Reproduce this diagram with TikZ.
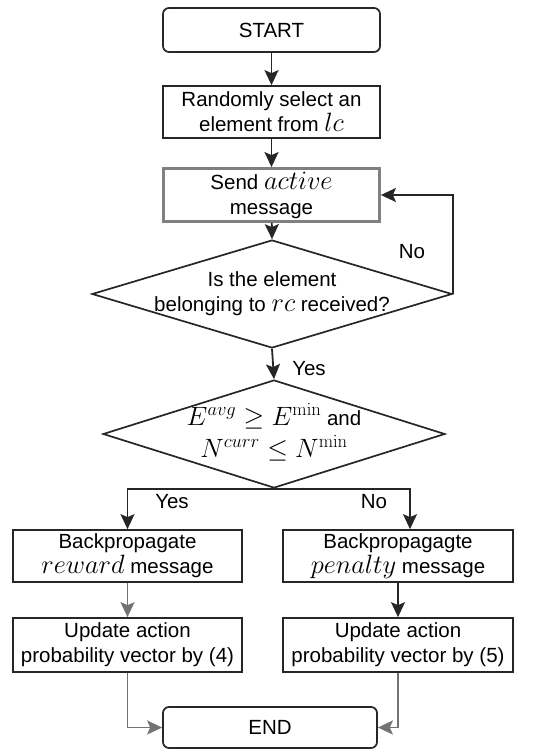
\RequirePackage{fix-cm}
\documentclass[tikz,border=0pt]{standalone}
\usepackage[no-math]{fontspec}
\setmainfont{Liberation Sans}
\usetikzlibrary{shapes.geometric,arrows.meta}
\newcommand{\dtxt}[1]{\smash{\makebox[0pt]{\raisebox{-0.25em}{\begin{tabular}{@{}c@{}}#1\end{tabular}}}}}
\newcommand{\mth}[1]{{\fontsize{26.5}{25}\selectfont$#1$}}
\begin{document}
\begin{tikzpicture}[x=1pt,y=-1pt,
  every node/.style={font=\fontsize{20.5}{25}\selectfont},
  box/.style={draw=black!85, line width=1.7pt, inner sep=0pt, align=center},
  term/.style={box, rounded corners=6pt},
  graybox/.style={box, draw=black!50, line width=2.8pt},
  dec/.style={diamond, draw=black!85, line width=1.7pt, inner sep=0pt},
  arr/.style={draw=black!85, line width=1.8pt, -{Stealth[length=15pt,width=14pt,inset=3pt]}},
  garr/.style={arr, draw=black!55},
  lbl/.style={inner sep=0pt}
]
\useasboundingbox (0,0) rectangle (533,751);
\node[term, minimum width=217pt, minimum height=44pt] (start) at (271.5,30) {START};
\node[box, minimum width=217pt, minimum height=52pt] (sel) at (271.5,112) {Randomly select an\\element from \mth{lc}};
\node[graybox, minimum width=216pt, minimum height=53pt] (send) at (271.5,195) {Send \mth{active}\\message};
\node[dec, minimum width=360pt, minimum height=108pt] (d1) at (272,294) {\dtxt{Is the element\\belonging to \mth{rc} received?}};
\node[dec, minimum width=342pt, minimum height=108pt] (d2) at (274,434) {\dtxt{\mth{E^{avg} \geq E^{\min}} and\\[3pt]\mth{N^{curr} \leq N^{\min}}}};
\node[box, minimum width=229pt, minimum height=52pt] (rew) at (127.5,556) {Backpropagate\\\mth{reward} message};
\node[box, minimum width=230pt, minimum height=52pt] (pen) at (398,556) {Backpropagagte\\\mth{penalty} message};
\node[box, minimum width=229pt, minimum height=54pt] (up4) at (127.5,645) {Update action\\probability vector by (4)};
\node[box, minimum width=230pt, minimum height=54pt] (up5) at (398,645) {Update action\\probability vector by (5)};
\node[term, minimum width=214pt, minimum height=41pt] (end) at (270,727.5) {END};

\draw[arr] (start) -- (sel);
\draw[arr] (sel) -- (send);
\draw[arr] (send) -- (d1.north);
\draw[arr] (d1.east) |- (send.east);
\node[lbl] (no1) at (412,252) {No};
\draw[arr] (d1.south) -- (d2.north);
\node[lbl] (yes1) at (309,369) {Yes};
\draw[arr] (d2.south) -| (rew.north);
\draw[arr] (d2.south) -| ([xshift=12pt]pen.north);
\node[lbl] (yes2) at (172,502) {Yes};
\node[lbl] (no2) at (374,502) {No};
\draw[garr] (rew) -- (up4);
\draw[arr] (pen) -- (up5);
\draw[garr] (up4.south) |- (end.west);
\draw[garr] (up5.south) |- (end.east);
\end{tikzpicture}
\end{document}
